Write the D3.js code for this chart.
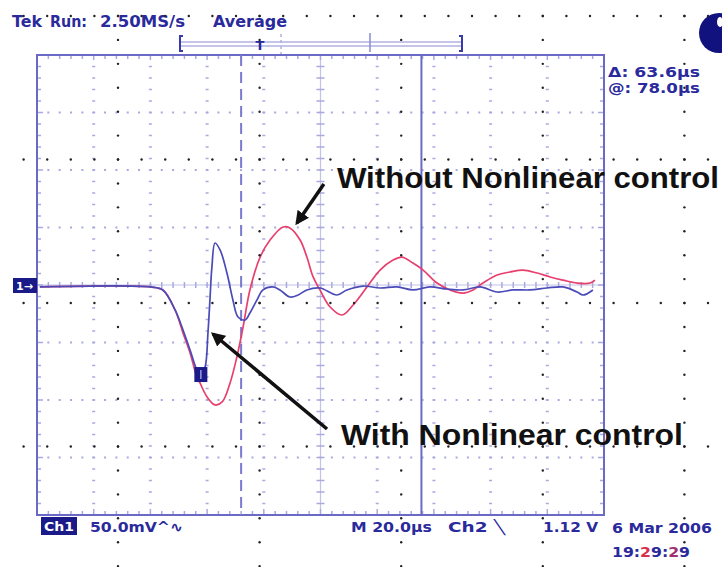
<!DOCTYPE html>
<html><head><meta charset="utf-8">
<script src="https://cdn.jsdelivr.net/npm/d3@7"></script>
<style>
html,body{margin:0;padding:0;background:#fff;}
svg{display:block;}
</style></head>
<body>
<svg id="chart" width="722" height="567"></svg>
<script>
// ---- data (time in µs from left edge of screen, voltage in mV from centre) ----
const timeDivs = [0,20,40,60,80,100,120,140,160,180,200];
const voltDivs = [-200,-150,-100,-50,0,50,100,150,200];

const withoutT = [1,40,44.4,48.7,51.5,54,56.4,57.5,60,62.8,65.3,68.1,70.5,72.7,75.1,78.7,82.2,86.8,89.2,92.8,95.2,97.4,99.8,103.4,107.6,111.5,116.4,121,125.6,128.7,132.6,136.2,141.1,145.7,150.3,153.8,157.3,162.3,166.8,171.4,176.4,181,185.5,190.5,195.1,196.8];
const withoutV = [-1.7,-1.7,-4.3,-21.7,-41.7,-59.1,-80,-85.2,-97.4,-104.3,-101.7,-85.2,-62.6,-36.5,-4.3,24.3,39.1,50.4,49.6,39.1,24.3,7,-4.3,-19.1,-26.1,-17.4,-1.7,13,21.7,24.3,19.1,13,1.7,-4.3,-7,-4.3,1.7,8.7,11.3,13,10.4,7,4.3,1.7,1.7,4.3];

const withT = [1,40,44.4,48.7,51.5,54,56.4,57.8,59.3,60.3,61,61.7,62.8,64.6,67,69.1,70.9,73.4,75.1,77.6,79.7,83.2,85.7,89.2,92.1,95.2,99.8,105.8,109.3,115,121,127,132.6,138.6,144.6,150.3,156.3,162.3,167.9,173.9,179.9,185.5,190.5,192.6,196.1];
const withV = [-1.7,-1.7,-4.3,-21.7,-39.1,-56.5,-73.9,-78.3,-71.3,-41.7,-13,15.7,36.5,30.4,10.4,-13,-27.8,-30.4,-24.3,-13,-4.3,-1.7,-4.3,-10.4,-8.7,-4.3,-2.6,-8.7,-4.3,-0.9,-2.6,-1.7,-4.3,-1.7,-3.5,-4.3,-1.7,-6.1,-4.3,-4.3,-2.6,-1.7,-6.1,-8.7,-4.3];

const cursorTimes = [72.0, 135.6];
const triggerMarker = [57.8, -78.3];

const headerLabels = ["Tek", "Run:", "2.50MS/s", "Average"];
const cursorReadouts = ["\u0394: 63.6\u00b5s", "@: 78.0\u00b5s"];
const bottomLabels = ["50.0mV^\u223f", "M 20.0\u00b5s", "Ch2 \u2572", "1.12 V"];
const dateLabel = "6 Mar 2006";
const annotations = [
  {text:"Without Nonlinear control", tip:[91.7,53.9], tail:[101.2,87.8]},
  {text:"With Nonlinear control", tip:[62.1,-42.6], tail:[102.3,-125.2]}
];

// ---- layout ----
const svg = d3.select("#chart");
const X0 = 37, X1 = 604, Y0 = 55, Y1 = 515;
const x = d3.scaleLinear().domain([0,200]).range([X0,X1]);
const y = d3.scaleLinear().domain([-200,200]).range([Y1,Y0]);
const navy = "#2a2a9c", frameC = "#6a6ac6", gridC = "#a9a9df";

const g = svg.append("g");

// dotted graticule
const minorT = d3.range(0,200.01,4);
const minorV = d3.range(-200,200.01,10);
timeDivs.slice(1,-1).forEach(t=>{
  if (t===100) return;
  g.selectAll(null).data(minorV.slice(1,-1)).enter().append("rect")
   .attr("x", x(t)-1.5).attr("y", d=>y(d)-0.75).attr("width",3).attr("height",1.5).attr("fill",gridC);
});
voltDivs.slice(1,-1).forEach(v=>{
  if (v===0) return;
  g.selectAll(null).data(minorT.slice(1,-1)).enter().append("rect")
   .attr("x", d=>x(d)-1).attr("y", y(v)-1).attr("width",2).attr("height",2).attr("fill",gridC);
});
// centre cross lines with ticks
g.append("line").attr("x1",X0).attr("x2",X1).attr("y1",y(0)).attr("y2",y(0)).attr("stroke","#c2c2ea").attr("stroke-width",1.2);
g.append("line").attr("x1",x(100)).attr("x2",x(100)).attr("y1",Y0).attr("y2",Y1).attr("stroke","#c2c2ea").attr("stroke-width",1.2);
g.selectAll(null).data(minorT).enter().append("line")
 .attr("x1",d=>x(d)).attr("x2",d=>x(d)).attr("y1",y(0)-3).attr("y2",y(0)+3).attr("stroke",gridC).attr("stroke-width",1.5);
g.selectAll(null).data(minorV).enter().append("line")
 .attr("y1",d=>y(d)).attr("y2",d=>y(d)).attr("x1",x(100)-4).attr("x2",x(100)+4).attr("stroke",gridC).attr("stroke-width",1.5);

// frame ticks
g.selectAll(null).data(minorT.slice(1,-1)).enter().append("line")
 .attr("x1",d=>x(d)).attr("x2",d=>x(d)).attr("y1",Y0).attr("y2",d=>Y0+(d%20===0?5:4)).attr("stroke",gridC).attr("stroke-width",1.5);
g.selectAll(null).data(minorT.slice(1,-1)).enter().append("line")
 .attr("x1",d=>x(d)).attr("x2",d=>x(d)).attr("y1",Y1).attr("y2",d=>Y1-(d%20===0?6:4)).attr("stroke",gridC).attr("stroke-width",1.5);
g.selectAll(null).data(minorV.slice(1,-1)).enter().append("line")
 .attr("y1",d=>y(d)).attr("y2",d=>y(d)).attr("x1",X0).attr("x2",d=>X0+(d%50===0?6:4)).attr("stroke",gridC).attr("stroke-width",1.5);
g.selectAll(null).data(minorV.slice(1,-1)).enter().append("line")
 .attr("y1",d=>y(d)).attr("y2",d=>y(d)).attr("x1",X1).attr("x2",d=>X1-(d%50===0?6:4)).attr("stroke",gridC).attr("stroke-width",1.5);

// frame
g.append("rect").attr("x",X0).attr("y",Y0).attr("width",X1-X0).attr("height",Y1-Y0)
 .attr("fill","none").attr("stroke",frameC).attr("stroke-width",2);

// cursors
g.append("line").attr("x1",x(cursorTimes[0])).attr("x2",x(cursorTimes[0])).attr("y1",Y0).attr("y2",Y1)
 .attr("stroke","#7a7ad0").attr("stroke-width",2).attr("stroke-dasharray","11,6");
g.append("line").attr("x1",x(cursorTimes[1])).attr("x2",x(cursorTimes[1])).attr("y1",Y0).attr("y2",Y1)
 .attr("stroke","#6a6ac6").attr("stroke-width",2);

// traces
const line = d3.line().x(d=>x(d[0])).y(d=>y(d[1])).curve(d3.curveCatmullRom.alpha(0.5));
g.append("path").datum(withoutT.map((t,i)=>[t,withoutV[i]])).attr("d",line)
 .attr("fill","none").attr("stroke","#e8406e").attr("stroke-width",1.7);
g.append("path").datum(withT.map((t,i)=>[t,withV[i]])).attr("d",line)
 .attr("fill","none").attr("stroke","#4a4ab8").attr("stroke-width",1.7);

// trigger marker box on trace
g.append("rect").attr("x",x(triggerMarker[0])-6.5).attr("y",y(triggerMarker[1])-8).attr("width",13).attr("height",15).attr("fill","#1a1a88");
g.append("line").attr("x1",x(triggerMarker[0])).attr("x2",x(triggerMarker[0])).attr("y1",y(triggerMarker[1])-5).attr("y2",y(triggerMarker[1])+4).attr("stroke","#9a9ae0").attr("stroke-width",1.5);

// channel ground marker "1→"
g.append("rect").attr("x",13).attr("y",y(0)-7).attr("width",24).attr("height",15).attr("fill","#1a1a88");
g.append("text").attr("x",16).attr("y",y(0)+5).attr("fill","#fff").attr("font-family","DejaVu Sans").attr("font-weight","bold").attr("font-size",11).text("1\u2192");

// header
const hdrX = [12,50,100,213], hdrW = [30,37,85,74];
g.selectAll(null).data(headerLabels).enter().append("text")
 .attr("x",(d,i)=>hdrX[i]).attr("y",27).attr("textLength",(d,i)=>hdrW[i]).attr("lengthAdjust","spacingAndGlyphs")
 .attr("fill",navy).attr("font-family","DejaVu Sans").attr("font-weight","bold").attr("font-size",15).text(d=>d);

// record bracket
const br = g.append("g").attr("stroke","#8a8ad4").attr("fill","none");
br.append("line").attr("x1",180).attr("x2",462).attr("y1",42).attr("y2",42).attr("stroke-width",1);
br.append("line").attr("x1",180).attr("x2",462).attr("y1",46).attr("y2",46).attr("stroke-width",1);
br.append("path").attr("d","M183,36 L180,36 L180,51 L183,51").attr("stroke","#3a3aa8").attr("stroke-width",2);
br.append("path").attr("d","M459,36 L462,36 L462,51 L459,51").attr("stroke","#3a3aa8").attr("stroke-width",2);
br.append("line").attr("x1",370).attr("x2",370).attr("y1",33).attr("y2",52).attr("stroke-width",1.5);
br.append("line").attr("x1",281).attr("x2",281).attr("y1",34).attr("y2",54).attr("stroke","#b0b0e0").attr("stroke-dasharray","3,3").attr("stroke-width",1.5);
g.append("text").attr("x",260).attr("y",50).attr("text-anchor","middle").attr("fill",navy).attr("font-family","DejaVu Sans").attr("font-weight","bold").attr("font-size",13).text("T");

// logo circle
g.append("circle").attr("cx",719).attr("cy",33).attr("r",20).attr("fill","#12127e");
g.append("ellipse").attr("cx",720).attr("cy",22).attr("rx",3).attr("ry",5).attr("fill","#fff");

// cursor readouts
g.selectAll(null).data(cursorReadouts).enter().append("text")
 .attr("x",608).attr("y",(d,i)=>77+i*16).attr("textLength",92).attr("lengthAdjust","spacingAndGlyphs")
 .attr("fill",navy).attr("font-family","DejaVu Sans").attr("font-weight","bold").attr("font-size",14).text(d=>d);

// bottom
g.append("rect").attr("x",41).attr("y",517).attr("width",36).attr("height",18).attr("fill","#1a1a88");
g.append("text").attr("x",44).attr("y",531).attr("textLength",30).attr("lengthAdjust","spacingAndGlyphs")
 .attr("fill","#fff").attr("font-family","DejaVu Sans").attr("font-weight","bold").attr("font-size",13).text("Ch1");
const botX = [90,351,448,543], botW = [93,81,57,55];
g.selectAll(null).data(bottomLabels).enter().append("text")
 .attr("x",(d,i)=>botX[i]).attr("y",532).attr("textLength",(d,i)=>botW[i]).attr("lengthAdjust","spacingAndGlyphs")
 .attr("fill",navy).attr("font-family","DejaVu Sans").attr("font-weight","bold").attr("font-size",14).text(d=>d);
g.append("text").attr("x",612).attr("y",533).attr("textLength",100).attr("lengthAdjust","spacingAndGlyphs")
 .attr("fill",navy).attr("font-family","DejaVu Sans").attr("font-weight","bold").attr("font-size",14).text(dateLabel);
const tt = g.append("text").attr("x",612).attr("y",557).attr("textLength",78).attr("lengthAdjust","spacingAndGlyphs")
 .attr("fill",navy).attr("font-family","DejaVu Sans").attr("font-weight","bold").attr("font-size",14);
[["19:",navy],["2","#d83050"],["9:",navy],["2","#a03070"],["9",navy]].forEach(p=>tt.append("tspan").attr("fill",p[1]).text(p[0]));

// overlay dot pattern
const dots = [];
[16,159.5,303,446.5].forEach(yy=>{ for(let k=1;k<=30;k++) dots.push([23.6*k,yy]); });
[5,11,17,23,29].forEach(c=>{ for(let m=0;m<=23;m++) dots.push([23.6*c,16+23.92*m]); });
g.selectAll(null).data(dots).enter().append("circle").attr("cx",d=>d[0]).attr("cy",d=>d[1]).attr("r",1.2).attr("fill","#222");

// annotations
const defs = svg.append("defs");
defs.append("marker").attr("id","ah").attr("viewBox","0 0 10 10").attr("refX",8).attr("refY",5)
 .attr("markerWidth",4).attr("markerHeight",4).attr("orient","auto")
 .append("path").attr("d","M0,0 L10,5 L0,10 z").attr("fill","#111");
annotations.forEach(a=>{
  g.append("line").attr("x1",x(a.tail[0])).attr("y1",y(a.tail[1])).attr("x2",x(a.tip[0])).attr("y2",y(a.tip[1]))
   .attr("stroke","#111").attr("stroke-width",3.5).attr("marker-end","url(#ah)");
});
g.append("text").attr("x",337).attr("y",188).attr("textLength",382).attr("lengthAdjust","spacingAndGlyphs")
 .attr("fill","#111").attr("font-family","Liberation Sans, Arial").attr("font-weight","bold").attr("font-size",29).text(annotations[0].text);
g.append("text").attr("x",341).attr("y",445).attr("textLength",342).attr("lengthAdjust","spacingAndGlyphs")
 .attr("fill","#111").attr("font-family","Liberation Sans, Arial").attr("font-weight","bold").attr("font-size",29).text(annotations[1].text);
</script>
</body></html>
